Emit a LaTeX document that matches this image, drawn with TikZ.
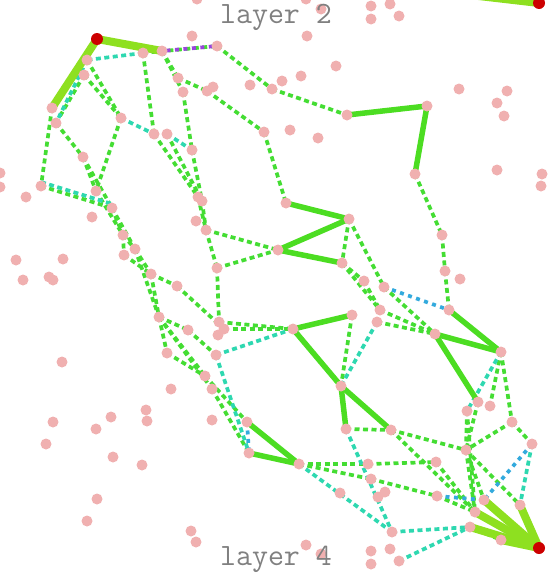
\documentclass[tikz,border=0pt]{standalone}
\usepackage{fontspec}
\usepackage{tikz}
\usepackage{xcolor}

\definecolor{dotpink}{HTML}{F0B0B0}
\definecolor{nodered}{HTML}{CC0000}
\definecolor{limeg}{HTML}{8EE020}
\definecolor{solidg}{HTML}{4CDD22}
\definecolor{dotg}{HTML}{44DD33}
\definecolor{cyanc}{HTML}{2ED8B0}
\definecolor{bluec}{HTML}{33AADD}
\definecolor{purplec}{HTML}{9944DD}
\definecolor{labgray}{HTML}{808080}

\tikzset{
  limeedge/.style={draw=limeg, line width=8pt, line cap=round},
  gedge/.style={draw=solidg, line width=5.5pt, line cap=round},
  gdot/.style={draw=dotg, line width=3.7pt, dash pattern=on 5pt off 3.5pt},
  cdot/.style={draw=cyanc, line width=3.7pt, dash pattern=on 5pt off 3.5pt},
  bdot/.style={draw=bluec, line width=3.7pt, dash pattern=on 4pt off 4.5pt},
  pdot/.style={draw=purplec, line width=3.7pt, dash pattern=on 4pt off 4.5pt, dash phase=4pt},
  lab/.style={anchor=base, inner sep=0pt, text=labgray, font=\ttfamily\fontsize{31}{31}\selectfont}
}

\begin{document}
\begin{tikzpicture}[x=1pt,y=-1pt]
\clip (0,0) rectangle (549,573);

\foreach \n/\x/\y in {r1/97/39, r2/539/3, r3/539/548, r2o/470/-5,
  p1/162/51, p2/143/53, p3/217/46, p4/87/60, p5/84/75, p6/52/108, p7/56/123,
  p8/121/118, p9/178/78, p10/183/92, p11/207/91, p12/154/134, p13/167/134,
  p14/192/150, p15/83/157, p16/41/186, p17/96/191, p18/112/208, p19/198/197,
  p20/202/201, p21/272/89, p22/264/132, p23/123/235, p24/135/249, p25/151/274,
  p26/177/286, p27/159/317, p28/188/330, p29/167/353, p30/206/230, p31/217/268,
  p32/219/322, p33/224/329, p34/218/335, p35/216/355, p36/205/376, p37/212/389,
  p38/247/422, p39/249/453, p40/124/255,
  q1/347/115, q2/427/106, q3/415/174, q4/286/203, q5/349/219, q6/278/250,
  q7/342/263, q8/364/281, q9/384/287, q10/380/310, q11/377/322, q12/352/315,
  q13/293/329, q14/442/235, q15/445/271, q16/449/310, q17/435/334, q18/501/352,
  e0/299/464, e1/341/386, e2/346/429, e3/391/430, e4/368/464, e5/371/479,
  e7/340/493, e8/392/532, e10/399/561,
  f1/478/402, f2/490/406, f3/467/411, f4/512/422, f5/532/444, f6/466/450,
  f7/436/462, f8/437/496, f9/484/500, f10/475/512, f11/520/505, f12/470/527,
  f13/501/540}
  \coordinate (\n) at (\x,\y);

\foreach \a/\b in {p2/p3, p3/p21, p21/q1, p1/p9, p9/p11, p11/p22, p22/q4,
  p1/p10, p10/p14, p14/p20, p2/p12, p12/p19, p13/p20, p4/p8, p5/p8, p8/p17,
  p5/p7, p6/p16, p7/p15, p15/p17, p15/p18, p16/p18, p17/p23, p18/p23, p18/p24,
  p23/p40, p23/p24, p24/p25, p40/p25, p25/p26, p25/p27, p24/p27, p27/p29,
  p27/p28, p28/p35, p26/p33, p27/p36, p27/p37, p29/p36, p36/p38, p37/p39,
  p19/p30, p20/p30, p30/p31, p30/q6, p31/q6, p31/p32, p32/q13, p33/q13,
  q5/q7, q5/q9, q7/q8, q7/q10, q8/q10, q10/q17, q11/q17, q9/q17, q12/e1,
  q3/q14, q14/q15, q15/q16, q18/f4, q18/f2, f1/f6, f3/f6, f3/f10, f6/f9,
  f6/f10, f4/f5, f4/f6, f6/f11, f7/f10, f8/f10, e3/f6, e3/f10, e2/e3,
  e0/e4, e4/f7, e0/e5, e5/f8, f12/f13}
  \draw[gdot] (\a) -- (\b);

\foreach \a/\b in {p2/p4, p4/p7, p8/p12, p13/p14, p35/q13, p35/p39, q11/e1,
  q18/f3, f5/f11, e2/e8, e0/e8, e8/f12, e10/f12}
  \draw[cdot] (\a) -- (\b);
\draw[cdot, transform canvas={shift={(0pt,4pt)}}] (p16) -- (p18);

\foreach \a/\b in {q9/q16, f5/f9, f8/f9, p38/p39}
  \draw[bdot] (\a) -- (\b);
\draw[pdot] (p1) -- (p3);

\foreach \a/\b in {q1/q2, q2/q3, q4/q5, q5/q6, q6/q7, q13/q12, q13/e1, e1/e2,
  e1/e3, q16/q18, q17/q18, q17/f1, p38/e0, p39/e0}
  \draw[gedge] (\a) -- (\b);

\foreach \a/\b in {r1/p1, r1/p6, r2o/r2, r3/f9, r3/f10, r3/f12, r3/f13, r3/f11}
  \draw[limeedge] (\a) -- (\b);

\foreach \n in {p1, p2, p3, p4, p5, p6, p7, p8, p9, p10, p11, p12, p13, p14,
  p15, p16, p17, p18, p19, p20, p21, p22, p23, p24, p25, p26, p27, p28, p29,
  p30, p31, p32, p33, p34, p35, p36, p37, p38, p39, p40,
  q1, q2, q3, q4, q5, q6, q7, q8, q9, q10, q11, q12, q13, q14, q15, q16, q17, q18,
  e0, e1, e2, e3, e4, e5, e7, e8, e10,
  f1, f2, f3, f4, f5, f6, f7, f8, f9, f10, f11, f12, f13}
  \fill[dotpink] (\n) circle[radius=5.5pt];

\foreach \x/\y [count=\i] in {192/36, 213/87, 250/85, 282/81, 301/76, 336/66,
  307/36, 321/9, 371/6, 390/4, 371/19, 399/16, 306/-1, 197/-1, 290/130,
  318/138, 459/89, 507/91, 497/103, 504/116, 497/170, 542/174, 541/186,
  0/173, 0/187, 26/197, 16/260, 63/259, 23/280, 49/277, 53/280, 62/362,
  92/217, 196/221, 460/279, 53/422, 96/429, 111/417, 146/410, 147/421,
  212/420, 46/444, 113/457, 142/465, 97/499, 87/521, 191/531, 196/542,
  306/545, 321/554, 371/551, 371/564, 390/549, 385/492, 378/497, 171/389}
  \fill[dotpink] (\x,\y) coordinate (s\i) circle[radius=5.5pt];

\foreach \n in {r1, r2, r3} \fill[nodered] (\n) circle[radius=6pt];

\node[lab] (top) at (276,23) {layer 2};
\node[lab] (bottom) at (276,565) {layer 4};
\end{tikzpicture}
\end{document}
